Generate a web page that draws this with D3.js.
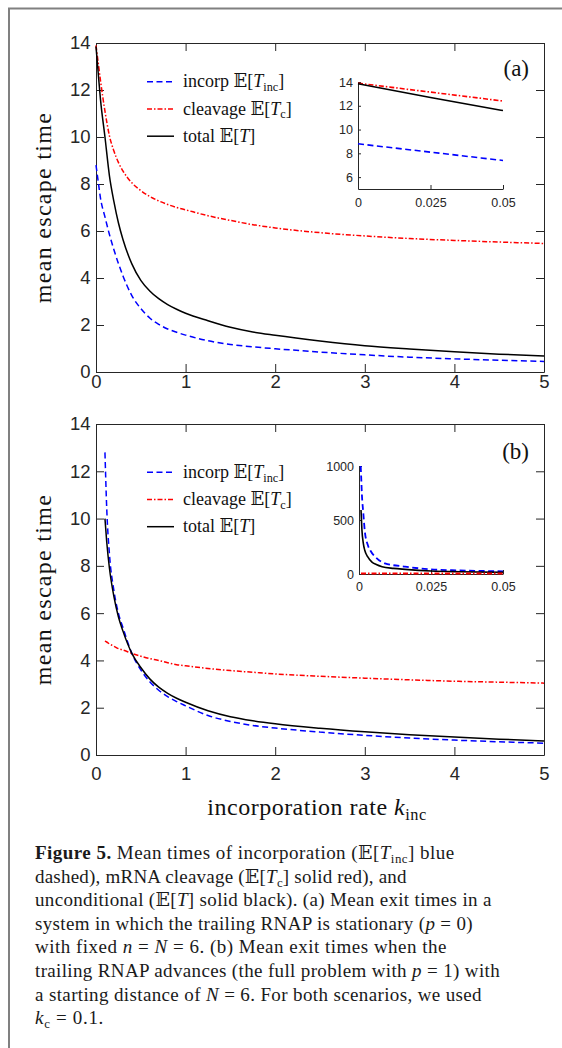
<!DOCTYPE html>
<html>
<head>
<meta charset="utf-8">
<script src="https://cdn.jsdelivr.net/npm/d3@7"></script>
<style>
  html, body { margin: 0; padding: 0; background: #fff; }
  svg { display: block; }
</style>
</head>
<body>
<svg id="fig" width="562" height="1048"></svg>
<script>
// ---- (a) stationary trailing RNAP, n = N = 6 ----
const kA   = [0, 0.025, 0.05, 0.1, 0.15, 0.2, 0.25, 0.3, 0.4, 0.5, 0.6, 0.7, 0.8, 0.9, 1.0, 1.25, 1.5, 1.75, 2.0, 2.5, 3.0, 3.5, 4.0, 4.5, 5.0];
const incA = [8.8, 8.1, 7.4, 6.6, 5.85, 5.2, 4.62, 4.1, 3.25, 2.7, 2.3, 2.03, 1.83, 1.69, 1.57, 1.33, 1.17, 1.07, 0.99, 0.85, 0.73, 0.63, 0.56, 0.5, 0.45];
const cleA = [13.9, 13.15, 12.4, 11.1, 10.05, 9.4, 8.92, 8.56, 8.05, 7.72, 7.47, 7.28, 7.13, 7.0, 6.9, 6.65, 6.45, 6.27, 6.13, 5.93, 5.79, 5.68, 5.6, 5.53, 5.47];
const totA = [13.85, 12.7, 11.6, 10.0, 8.35, 7.25, 6.35, 5.65, 4.6, 3.9, 3.45, 3.12, 2.87, 2.67, 2.5, 2.18, 1.9, 1.7, 1.56, 1.32, 1.12, 0.98, 0.86, 0.76, 0.68];

// ---- (b) advancing trailing RNAP, N = 6 ----
const kB   = [0.1, 0.12, 0.15, 0.2, 0.25, 0.3, 0.4, 0.5, 0.6, 0.7, 0.8, 0.9, 1.0, 1.25, 1.5, 1.75, 2.0, 2.5, 3.0, 3.5, 4.0, 4.5, 5.0];
const incB = [12.8, 10.4, 8.5, 6.95, 6.0, 5.4, 4.3, 3.6, 3.1, 2.74, 2.47, 2.26, 2.08, 1.67, 1.42, 1.25, 1.14, 0.97, 0.83, 0.72, 0.63, 0.56, 0.5];
const cleB = [4.82, 4.78, 4.7, 4.6, 4.5, 4.44, 4.3, 4.18, 4.08, 4.0, 3.9, 3.82, 3.77, 3.66, 3.57, 3.5, 3.43, 3.33, 3.25, 3.18, 3.12, 3.08, 3.04];
const totB = [10.0, 9.0, 7.9, 6.7, 5.85, 5.25, 4.3, 3.7, 3.22, 2.87, 2.61, 2.4, 2.23, 1.87, 1.62, 1.45, 1.32, 1.13, 0.98, 0.86, 0.76, 0.67, 0.59];

// ---- (b) inset, small k_inc ----
const kInsInc  = [0.0006, 0.0008, 0.001, 0.0015, 0.002, 0.003, 0.004, 0.006, 0.009, 0.016, 0.025, 0.035, 0.05];
const incInsB  = [1000, 870, 740, 562, 400, 272, 215, 150, 99, 68, 43, 33, 25];
const kInsTot  = [0.0007, 0.001, 0.0015, 0.002, 0.003, 0.0045, 0.006, 0.008, 0.012, 0.016, 0.025, 0.035, 0.05];
const totInsB  = [593, 415, 284, 220, 160, 110, 88, 68, 52, 43, 28, 21, 15];
const kInsCle  = [0.0007, 0.025, 0.05];
const cleInsB  = [5.4, 5.2, 5.0];

// ---- ticks ----
const mainXTicks = [0, 1, 2, 3, 4, 5];
const mainYTicks = [0, 2, 4, 6, 8, 10, 12, 14];
const insetXTicks = [0, 0.025, 0.05];
const insetAYTicks = [6, 8, 10, 12, 14];
const insetBYTicks = [0, 500, 1000];

const SERIF = '"Liberation Serif", "Times New Roman", serif';
const SANS = '"Liberation Sans", Arial, sans-serif';
const BB = '"DejaVu Serif", "DejaVu Sans", serif';
const AX = "#262626";
const BLUE = "#0000ff", RED = "#ff0000", BLACK = "#000000";
const DASH = "6,3.5", DASHDOT = "5,2,1.5,2";

const svg = d3.select("#fig");
svg.append("rect").attr("width", 562).attr("height", 1048).attr("fill", "#fff");

// page frame (left and top rule)
svg.append("path").attr("d", "M9,1048V8.5H562")
  .attr("fill", "none").attr("stroke", "#808080").attr("stroke-width", 2);

// text built from runs: "" roman, "i" italic, "b" bold, "bb" double-struck, "sub" subscript
function rich(parent, x, y, parts, size, anchor) {
  const t = parent.append("text")
    .attr("x", x).attr("y", y)
    .attr("font-family", SERIF).attr("font-size", size)
    .attr("fill", "#111").attr("text-anchor", anchor || "start")
    .style("white-space", "pre");
  let shifted = 0;
  parts.forEach(([s, st]) => {
    const ts = t.append("tspan").text(s);
    if (st === "sub") {
      ts.attr("font-size", size * 0.68);
      if (!shifted) { ts.attr("dy", size * 0.22); shifted = size * 0.22; }
    } else if (shifted) {
      ts.attr("dy", -shifted); shifted = 0;
    }
    if (st === "i") ts.attr("font-style", "italic");
    if (st === "b") ts.attr("font-weight", "bold");
    if (st === "bb") ts.attr("font-family", BB);
  });
  return t;
}

function styleAxis(sel, fs) {
  sel.attr("font-size", fs).attr("font-family", SANS);
  sel.selectAll(".domain").attr("stroke", AX).attr("stroke-width", 1);
  sel.selectAll(".tick line").attr("stroke", AX).attr("stroke-width", 1);
  sel.selectAll(".tick text").attr("font-family", SANS).attr("font-size", fs).attr("fill", AX);
}

const legendRows = [
  { color: BLUE, dash: DASH, parts: [["incorp ", ""], ["\u{1D53C}", "bb"], ["[", ""], ["T", "i"], ["inc", "sub"], ["]", ""]] },
  { color: RED, dash: DASHDOT, parts: [["cleavage ", ""], ["\u{1D53C}", "bb"], ["[", ""], ["T", "i"], ["c", "sub"], ["]", ""]] },
  { color: BLACK, dash: null, parts: [["total ", ""], ["\u{1D53C}", "bb"], ["[", ""], ["T", "i"], ["]", ""]] }
];

function drawPanel(cfg) {
  const g = svg.append("g");
  const x = d3.scaleLinear().domain([0, 5]).range([96, 544]);
  const y = d3.scaleLinear().domain([0, 14]).range([cfg.bottom, cfg.top]);

  const bx = g.append("g").attr("transform", `translate(0,${cfg.bottom})`)
    .call(d3.axisBottom(x).tickValues(mainXTicks).tickFormat(d3.format("d"))
      .tickSizeInner(-8).tickSizeOuter(0).tickPadding(cfg.xpad));
  styleAxis(bx, 18.5);
  const tx = g.append("g").attr("transform", `translate(0,${cfg.top})`)
    .call(d3.axisTop(x).tickValues(mainXTicks).tickFormat("").tickSizeInner(-8).tickSizeOuter(0));
  styleAxis(tx, 18.5);
  const ly = g.append("g").attr("transform", "translate(96,0)")
    .call(d3.axisLeft(y).tickValues(mainYTicks).tickFormat(d3.format("d"))
      .tickSizeInner(-8).tickSizeOuter(0).tickPadding(5.5));
  styleAxis(ly, 18.5);
  const ry = g.append("g").attr("transform", "translate(544,0)")
    .call(d3.axisRight(y).tickValues(mainYTicks).tickFormat("").tickSizeInner(-8).tickSizeOuter(0));
  styleAxis(ry, 18.5);

  const line = d3.line().x(d => x(d[0])).y(d => y(d[1])).curve(d3.curveMonotoneX);
  const series = [
    { k: cfg.k, v: cfg.cle, color: RED, dash: DASHDOT },
    { k: cfg.k, v: cfg.inc, color: BLUE, dash: DASH },
    { k: cfg.k, v: cfg.tot, color: BLACK, dash: null }
  ];
  series.forEach(s => {
    g.append("path").datum(d3.zip(s.k, s.v)).attr("d", line)
      .attr("fill", "none").attr("stroke", s.color).attr("stroke-width", 1.5)
      .attr("stroke-dasharray", s.dash);
  });

  // y label
  g.append("text")
    .attr("transform", `translate(51,${(cfg.top + cfg.bottom) / 2}) rotate(-90)`)
    .attr("text-anchor", "middle").attr("font-family", SERIF).attr("font-size", 24)
    .attr("letter-spacing", 1.3).attr("fill", "#111").text("mean escape time");

  // panel tag
  g.append("text").attr("x", 529).attr("y", cfg.top + cfg.tagDy)
    .attr("text-anchor", "end").attr("font-family", SERIF).attr("font-size", 23)
    .attr("fill", "#111").text(cfg.tag);

  // legend
  legendRows.forEach((r, i) => {
    const ry0 = cfg.top + cfg.legDy + i * 27.2;
    g.append("line").attr("x1", 147).attr("x2", 174).attr("y1", ry0).attr("y2", ry0)
      .attr("stroke", r.color).attr("stroke-width", 1.5).attr("stroke-dasharray", r.dash);
    rich(g, 183, ry0 + 5.5, r.parts, 18);
  });
  return { x, y };
}

function drawInset(cfg) {
  const g = svg.append("g");
  const x = d3.scaleLinear().domain([0, 0.05]).range([cfg.left, cfg.right]);
  const y = d3.scaleLinear().domain(cfg.ydom).range([cfg.bottom, cfg.top]);
  const fmt = d => d === 0 ? "0" : String(d);
  const bx = g.append("g").attr("transform", `translate(0,${cfg.bottom})`)
    .call(d3.axisBottom(x).tickValues(insetXTicks).tickFormat(fmt)
      .tickSizeInner(-4).tickSizeOuter(0).tickPadding(cfg.xpad));
  styleAxis(bx, 12.5);
  const ly = g.append("g").attr("transform", `translate(${cfg.left},0)`)
    .call(d3.axisLeft(y).tickValues(cfg.yticks).tickFormat(d3.format("d"))
      .tickSizeInner(-3).tickSizeOuter(0).tickPadding(5));
  styleAxis(ly, 12.5);
  const line = d3.line().x(d => x(d[0])).y(d => y(d[1])).curve(d3.curveMonotoneX);
  cfg.series.forEach(s => {
    g.append("path").datum(d3.zip(s.k, s.v)).attr("d", line)
      .attr("fill", "none").attr("stroke", s.color).attr("stroke-width", s.w || 1.6)
      .attr("stroke-dasharray", s.dash);
  });
}

drawPanel({ top: 43, bottom: 372, xpad: 3, tag: "(a)", tagDy: 33, legDy: 38.8,
            k: kA, inc: incA, cle: cleA, tot: totA });
drawPanel({ top: 424, bottom: 755, xpad: 12, tag: "(b)", tagDy: 35, legDy: 48.3,
            k: kB, inc: incB, cle: cleB, tot: totB });

// (a) inset: first part of the (a) curves
const nIns = kA.filter(k => k <= 0.05).length;
drawInset({ left: 358, right: 503, top: 82, bottom: 189, ydom: [5, 14], yticks: insetAYTicks, xpad: 9,
  series: [
    { k: kA.slice(0, nIns), v: cleA.slice(0, nIns), color: RED, dash: DASHDOT },
    { k: kA.slice(0, nIns), v: incA.slice(0, nIns), color: BLUE, dash: DASH },
    { k: kA.slice(0, nIns), v: totA.slice(0, nIns), color: BLACK, dash: null }
  ] });

drawInset({ left: 359, right: 503, top: 466, bottom: 574, ydom: [0, 1000], yticks: insetBYTicks, xpad: 8.5,
  series: [
    { k: kInsInc, v: incInsB, color: BLUE, dash: DASH, w: 1.8 },
    { k: kInsTot, v: totInsB, color: BLACK, dash: null, w: 1.6 },
    { k: kInsCle, v: cleInsB, color: RED, dash: DASHDOT, w: 2 }
  ] });

// x label
rich(svg, 317, 815, [["incorporation rate ", ""], ["k", "i"], ["inc", "sub"]], 24, "middle")
  .attr("letter-spacing", 0.5);

// caption; each line is spaced out to its set measure
const captionLines = [
  [["Figure 5.", "b"], [" Mean times of incorporation (", ""], ["\u{1D53C}", "bb"], ["[", ""], ["T", "i"], ["inc", "sub"], ["] blue", ""]],
  [["dashed), mRNA cleavage (", ""], ["\u{1D53C}", "bb"], ["[", ""], ["T", "i"], ["c", "sub"], ["] solid red), and", ""]],
  [["unconditional (", ""], ["\u{1D53C}", "bb"], ["[", ""], ["T", "i"], ["] solid black). (a) Mean exit times in a", ""]],
  [["system in which the trailing RNAP is stationary (", ""], ["p", "i"], [" = 0)", ""]],
  [["with fixed ", ""], ["n", "i"], [" = ", ""], ["N", "i"], [" = 6. (b) Mean exit times when the", ""]],
  [["trailing RNAP advances (the full problem with ", ""], ["p", "i"], [" = 1) with", ""]],
  [["a starting distance of ", ""], ["N", "i"], [" = 6. For both scenarios, we used", ""]],
  [["k", "i"], ["c", "sub"], [" = 0.1.", ""]]
];
const captionWidths = [420, 372, 457, 438, 412, 465, 447, 69];
captionLines.forEach((parts, i) => {
  const t = rich(svg, 35, 859 + i * 23.6, parts, 19).attr("fill", "#1a1a1a");
  const node = t.node();
  const w = node.getComputedTextLength();
  const n = node.textContent.length;
  const ls = (captionWidths[i] - w) / n;
  t.attr("letter-spacing", Math.max(-0.5, Math.min(1.5, ls)));
});
</script>
</body>
</html>
